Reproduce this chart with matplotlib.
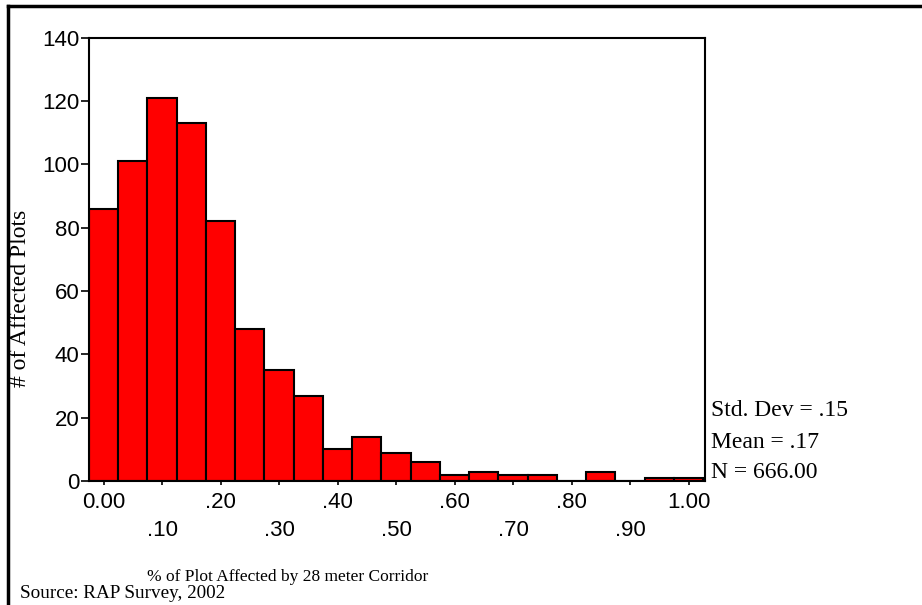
import matplotlib
matplotlib.use("Agg")
import matplotlib.pyplot as plt
import numpy as np

# Data: bin midpoints (width .05) and counts
bin_mids = [0.00, 0.05, 0.10, 0.15, 0.20, 0.25, 0.30, 0.35, 0.40, 0.45, 0.50,
            0.55, 0.60, 0.65, 0.70, 0.75, 0.80, 0.85, 0.90, 0.95, 1.00]
counts = [86, 101, 121, 113, 82, 48, 35, 27, 10, 14, 9,
          6, 2, 3, 2, 2, 0, 3, 0, 1, 1]
bin_width = 0.05
x_ticks = [0.0, 0.1, 0.2, 0.3, 0.4, 0.5, 0.6, 0.7, 0.8, 0.9, 1.0]
x_ticklabels = ["0.00", "\n.10", ".20", "\n.30", ".40", "\n.50", ".60", "\n.70", ".80", "\n.90", "1.00"]
y_ticks = [0, 20, 40, 60, 80, 100, 120, 140]
stats = ["Std. Dev = .15", "Mean = .17", "N = 666.00"]

W, H = 922, 605
fig = plt.figure(figsize=(W / 100, H / 100), dpi=100)
ax = fig.add_axes([89 / W, 1 - 481 / H, (705 - 89) / W, (481 - 37.7) / H])

ax.bar(bin_mids, counts, width=bin_width, color="#ff0000", edgecolor="black",
       linewidth=1.5, align="center")
ax.set_xlim(-0.025, 1.028)
ax.set_ylim(0, 140)

ax.set_xticks(x_ticks)
ax.set_xticklabels(x_ticklabels, family="Liberation Sans", fontsize=16)
for t in ax.get_xticklabels():
    t.set_linespacing(1.45)
ax.set_yticks(y_ticks)
ax.set_yticklabels([str(v) for v in y_ticks], family="Liberation Sans", fontsize=16)
ax.tick_params(axis="y", direction="out", length=6, width=1.2, pad=1)
ax.tick_params(axis="x", direction="out", length=3, width=1.2, pad=5)
for s in ax.spines.values():
    s.set_linewidth(1.5)

serif = "Liberation Serif"
fig.text(21 / W, 1 - 298 / H, "# of Affected Plots", rotation=90, family=serif,
         fontsize=17, ha="center", va="center")
fig.text(288 / W, 1 - 577 / H, "% of Plot Affected by 28 meter Corridor", family=serif,
         fontsize=12.5, ha="center", va="center")
fig.text(20 / W, 1 - 593 / H, "Source: RAP Survey, 2002", family=serif,
         fontsize=13.8, ha="left", va="center")
for i, t in enumerate(stats):
    fig.text(711 / W, 1 - (411 + 31 * i) / H, t, family=serif, fontsize=17,
             ha="left", va="center")

# outer frame (top and left visible)
fig.add_artist(plt.Line2D([8 / W, 1], [1 - 6 / H, 1 - 6 / H], color="black", lw=2.5,
                          transform=fig.transFigure))
fig.add_artist(plt.Line2D([8 / W, 8 / W], [0, 1 - 6 / H], color="black", lw=2.5,
                          transform=fig.transFigure))

fig.savefig("out.png", dpi=100)
